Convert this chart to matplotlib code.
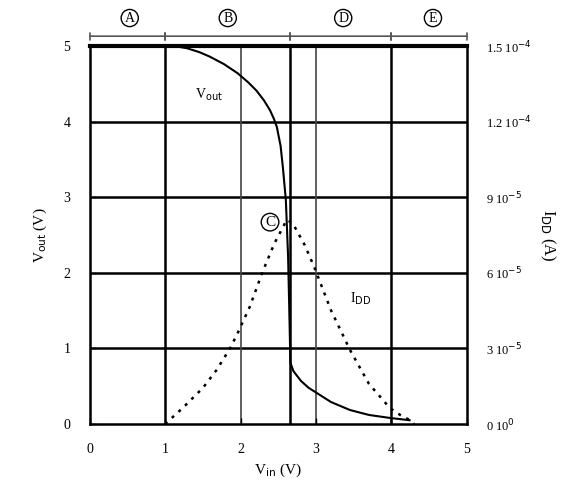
import numpy as np
import matplotlib.pyplot as plt

plt.rcParams['font.family'] = ['Liberation Serif', 'DejaVu Serif']

# inverter transfer curve V_out(V_in)
vin_out = [0.0, 1.0, 1.15, 1.29, 1.45, 1.59, 1.78, 1.96, 2.10, 2.21, 2.31, 2.39, 2.44, 2.48,
           2.53, 2.56, 2.60, 2.63, 2.65, 2.66, 2.70, 2.80, 2.90, 3.01, 3.20, 3.45, 3.70, 3.98, 4.24]
vout = [5.0, 5.0, 4.995, 4.97, 4.92, 4.86, 4.76, 4.64, 4.52, 4.41, 4.28, 4.15, 4.04, 3.93,
        3.68, 3.40, 2.96, 2.2, 1.3, 0.81, 0.70, 0.57, 0.48, 0.41, 0.29, 0.185, 0.12, 0.08, 0.05]

# supply current I_DD(V_in)
vin_idd = [1.0, 1.23, 1.50, 1.68, 1.86, 1.96, 2.12, 2.29, 2.45, 2.56, 2.61, 2.69, 2.85,
           2.98, 3.20, 3.45, 3.70, 3.98, 4.12, 4.24, 4.30]
idd = [0.0, 0.63e-5, 1.43e-5, 2.14e-5, 3.0e-5, 3.6e-5, 4.64e-5, 6.03e-5, 7.18e-5, 7.8e-5,
       8.1e-5, 7.97e-5, 7.1e-5, 6.2e-5, 4.5e-5, 2.94e-5, 1.6e-5, 0.63e-5, 0.35e-5, 0.16e-5, 0.0]

# operating regions along the input axis
region_names = ['A', 'B', 'D', 'E']
region_bounds = [(0.0, 1.0), (1.0, 2.65), (2.65, 4.0), (4.0, 5.0)]
region_label_x = [0.53, 1.83, 3.36, 4.55]

idd_ticks = [0, 3e-5, 6e-5, 9e-5, 1.2e-4, 1.5e-4]
idd_tick_labels = ['0 10$^{0}$', '3 10$^{-5}$', '6 10$^{-5}$', '9 10$^{-5}$',
                   '1.2 10$^{-4}$', '1.5 10$^{-4}$']

fig = plt.figure(figsize=(5.68, 5.0), dpi=100)
ax = fig.add_axes([0.158, 0.152, 0.664, 0.756])
ax.set_xlim(0, 5)
ax.set_ylim(0, 5)

# grid: heavy horizontals, heavy region borders, light x=2 and x=3
for yv in [1, 2, 3, 4]:
    ax.axhline(yv, color='black', lw=1.8, zorder=1)
for xv in [1, 2.65, 4]:
    ax.axvline(xv, color='black', lw=1.8, zorder=1)
for xv in [2, 3]:
    ax.axvline(xv, color='#444444', lw=1.2, zorder=1)

ax.plot(vin_out, vout, color='black', lw=1.5, zorder=3)

for sp in ax.spines.values():
    sp.set_linewidth(1.8)
ax.spines['top'].set_linewidth(3)

ax.set_xticks([0, 1, 2, 3, 4, 5])
ax.set_yticks([0, 1, 2, 3, 4, 5])
ax.tick_params(labelsize=10, length=4, width=1, direction='in')
ax.tick_params(axis='x', pad=14)
ax.tick_params(axis='y', pad=14)
ax.set_xlabel('V$_{\\rm in}$ (V)', fontsize=11)
ax.set_ylabel('V$_{\\rm out}$ (V)', fontsize=11, labelpad=10)

ax2 = ax.twinx()
ax2.set_ylim(0, 1.5e-4)
ax2.plot(vin_idd, idd, color='black', lw=1.8, ls=(0, (1.2, 2.4)), zorder=3)
ax2.set_yticks(idd_ticks)
ax2.set_yticklabels(idd_tick_labels)
ax2.tick_params(labelsize=9, length=0, pad=14)
ax2.set_ylabel('I$_{\\rm DD}$ (A)', fontsize=12, rotation=270, labelpad=18)
for sp in ax2.spines.values():
    sp.set_visible(False)

# region arrows above the top frame
for name, (x0, x1), lx in zip(region_names, region_bounds, region_label_x):
    ax.annotate('', xy=(x1, 5.13), xytext=(x0, 5.13), xycoords='data',
                arrowprops=dict(arrowstyle='|-|,widthA=0.25,widthB=0.25',
                                color='#555555', lw=1.2, shrinkA=0, shrinkB=0),
                annotation_clip=False)
    ax.text(lx, 5.37, name, ha='center', va='center', fontsize=10,
            bbox=dict(boxstyle='circle,pad=0.15', fc='white', ec='black', lw=1),
            clip_on=False)

ax.text(1.4, 4.3, 'V$_{\\rm out}$', fontsize=10)
ax.text(3.45, 1.6, 'I$_{\\rm DD}$', fontsize=10)
ax.text(2.39, 2.67, 'C', ha='center', va='center', fontsize=11,
        bbox=dict(boxstyle='circle,pad=0.15', fc='white', ec='black', lw=1))

fig.savefig('out.png', dpi=100)
